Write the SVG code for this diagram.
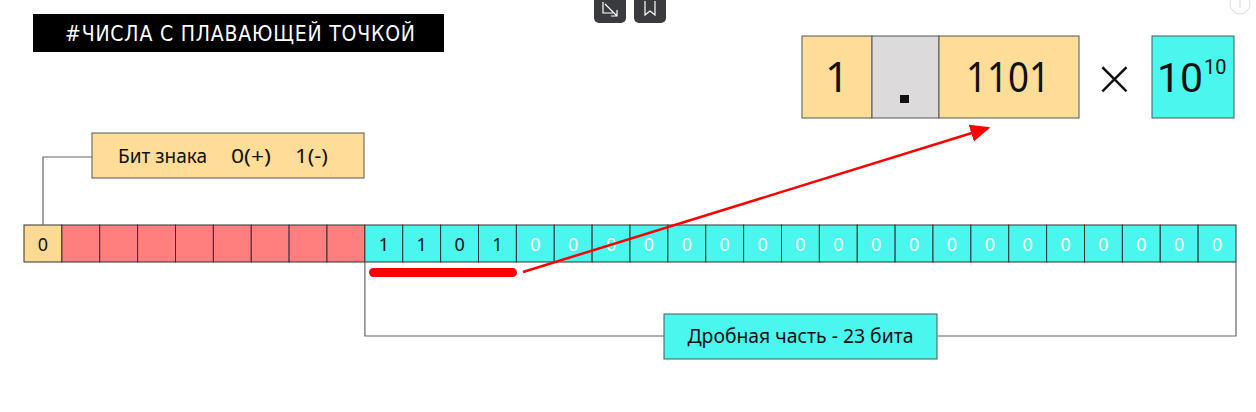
<svg xmlns="http://www.w3.org/2000/svg" width="1256" height="412" viewBox="0 0 1256 412">
<style>
  .cell { stroke: #333; stroke-width: 1; }
  .sign { fill: #fdda94; }
  .exp { fill: #ff7f7f; }
  .frac { fill: #4af7ee; }
  .bit { font-family: "Noto Sans", "DejaVu Sans", sans-serif; font-size: 18px; text-anchor: middle; }
  .dk { fill: #111; }
  .wh { fill: #ffffff; }
  .lbl { font-family: "Noto Sans", "DejaVu Sans", sans-serif; font-size: 19px; fill: #111; }
  .big { font-family: "Noto Sans", "DejaVu Sans", sans-serif; font-size: 42px; fill: #111; }
  .conn { fill: none; stroke: #666; stroke-width: 1.2; }
</style>
<defs>
  <marker id="arr" markerWidth="8" markerHeight="8" refX="7" refY="4" orient="auto" markerUnits="strokeWidth">
    <path d="M0,0.5 L8,4 L0,7.5 Z" fill="#ff0000"/>
  </marker>
</defs>
<rect width="1256" height="412" fill="#ffffff"/>

<g id="toolbar">
  <rect x="594" y="-6" width="32" height="29" rx="5" fill="#3a3b3f"/>
  <path d="M603,2 L603,13 L613,13 M605,4 L617,16 M617,10 L617,16 L611,16" fill="none" stroke="#ffffff" stroke-width="1.2"/>
  <rect x="634" y="-6" width="32" height="29" rx="5" fill="#3a3b3f"/>
  <path d="M645,1 L645,15 L650,11 L655,15 L655,1" fill="none" stroke="#ffffff" stroke-width="1.2"/>
  <circle cx="1240" cy="4" r="10" fill="none" stroke="#dddddd" stroke-width="1"/>
  <line x1="1240" y1="0" x2="1240" y2="8" stroke="#dddddd" stroke-width="1.2"/>
</g>

<g id="title">
  <rect x="33" y="14" width="411" height="38" fill="#000000"/>
  <text x="65" y="41" textLength="350" lengthAdjust="spacing" font-family="DejaVu Sans Condensed, Liberation Sans, sans-serif" font-size="21" fill="#ffffff">#ЧИСЛА С ПЛАВАЮЩЕЙ ТОЧКОЙ</text>
</g>

<g id="formula">
  <g id="f-one">
    <rect x="802" y="36" width="70" height="82" fill="#fedd96" stroke="#555" stroke-width="1"/>
    <text x="837" y="92" class="big" text-anchor="middle">1</text>
  </g>
  <g id="f-dot">
    <rect x="872" y="36" width="67" height="82" fill="#dcdadb" stroke="#555" stroke-width="1"/>
    <rect x="900" y="95" width="9" height="8" fill="#111"/>
  </g>
  <g id="f-mant">
    <rect x="939" y="36" width="140" height="82" fill="#fedd96" stroke="#555" stroke-width="1"/>
    <text x="1008" y="92" class="big" text-anchor="middle" textLength="84" lengthAdjust="spacingAndGlyphs">1101</text>
  </g>
  <g id="f-times">
    <text x="1114.5" y="95" font-family="DejaVu Sans, sans-serif" font-size="50" font-weight="200" fill="#111" text-anchor="middle">×</text>
  </g>
  <g id="f-pow">
    <rect x="1152" y="36" width="82" height="82" fill="#4af7ee" stroke="#555" stroke-width="1"/>
    <text x="1157" y="92" font-family="Roboto, Noto Sans, sans-serif" font-size="41" fill="#111">10</text>
    <text x="1204" y="74" font-family="Roboto, Noto Sans, sans-serif" font-size="20" fill="#111">10</text>
  </g>
</g>

<g id="sign-label">
  <rect x="92" y="133" width="272" height="45" fill="#fedd96" stroke="#555" stroke-width="1"/>
  <text x="118" y="163" class="lbl" textLength="89" lengthAdjust="spacingAndGlyphs">Бит знака</text>
  <text x="231" y="163" class="lbl" textLength="40" lengthAdjust="spacingAndGlyphs">0(+)</text>
  <text x="295" y="163" class="lbl" textLength="33" lengthAdjust="spacingAndGlyphs">1(-)</text>
</g>

<g id="frac-label">
  <rect x="664" y="314" width="273" height="45" fill="#4af7ee" stroke="#555" stroke-width="1"/>
  <text x="800.5" y="343" class="lbl" text-anchor="middle" textLength="226" lengthAdjust="spacingAndGlyphs">Дробная часть - 23 бита</text>
</g>

<g id="bits">
  <rect class="cell sign" x="24" y="225" width="37.875" height="37"/>
  <text class="bit dk" x="42.9" y="251">0</text>
  <rect class="cell exp" x="61.875" y="225" width="37.875" height="37"/>
  <rect class="cell exp" x="99.75" y="225" width="37.875" height="37"/>
  <rect class="cell exp" x="137.625" y="225" width="37.875" height="37"/>
  <rect class="cell exp" x="175.5" y="225" width="37.875" height="37"/>
  <rect class="cell exp" x="213.375" y="225" width="37.875" height="37"/>
  <rect class="cell exp" x="251.25" y="225" width="37.875" height="37"/>
  <rect class="cell exp" x="289.125" y="225" width="37.875" height="37"/>
  <rect class="cell exp" x="327" y="225" width="37.875" height="37"/>
  <rect class="cell frac" x="364.875" y="225" width="37.875" height="37"/>
  <text class="bit dk" x="383.8" y="251">1</text>
  <rect class="cell frac" x="402.75" y="225" width="37.875" height="37"/>
  <text class="bit dk" x="421.7" y="251">1</text>
  <rect class="cell frac" x="440.625" y="225" width="37.875" height="37"/>
  <text class="bit dk" x="459.6" y="251">0</text>
  <rect class="cell frac" x="478.5" y="225" width="37.875" height="37"/>
  <text class="bit dk" x="497.4" y="251">1</text>
  <rect class="cell frac" x="516.375" y="225" width="37.875" height="37"/>
  <text class="bit wh" x="535.3" y="251">0</text>
  <rect class="cell frac" x="554.25" y="225" width="37.875" height="37"/>
  <text class="bit wh" x="573.2" y="251">0</text>
  <rect class="cell frac" x="592.125" y="225" width="37.875" height="37"/>
  <text class="bit wh" x="611.1" y="251">0</text>
  <rect class="cell frac" x="630" y="225" width="37.875" height="37"/>
  <text class="bit wh" x="648.9" y="251">0</text>
  <rect class="cell frac" x="667.875" y="225" width="37.875" height="37"/>
  <text class="bit wh" x="686.8" y="251">0</text>
  <rect class="cell frac" x="705.75" y="225" width="37.875" height="37"/>
  <text class="bit wh" x="724.7" y="251">0</text>
  <rect class="cell frac" x="743.625" y="225" width="37.875" height="37"/>
  <text class="bit wh" x="762.6" y="251">0</text>
  <rect class="cell frac" x="781.5" y="225" width="37.875" height="37"/>
  <text class="bit wh" x="800.4" y="251">0</text>
  <rect class="cell frac" x="819.375" y="225" width="37.875" height="37"/>
  <text class="bit wh" x="838.3" y="251">0</text>
  <rect class="cell frac" x="857.25" y="225" width="37.875" height="37"/>
  <text class="bit wh" x="876.2" y="251">0</text>
  <rect class="cell frac" x="895.125" y="225" width="37.875" height="37"/>
  <text class="bit wh" x="914.1" y="251">0</text>
  <rect class="cell frac" x="933" y="225" width="37.875" height="37"/>
  <text class="bit wh" x="951.9" y="251">0</text>
  <rect class="cell frac" x="970.875" y="225" width="37.875" height="37"/>
  <text class="bit wh" x="989.8" y="251">0</text>
  <rect class="cell frac" x="1008.75" y="225" width="37.875" height="37"/>
  <text class="bit wh" x="1027.7" y="251">0</text>
  <rect class="cell frac" x="1046.625" y="225" width="37.875" height="37"/>
  <text class="bit wh" x="1065.6" y="251">0</text>
  <rect class="cell frac" x="1084.5" y="225" width="37.875" height="37"/>
  <text class="bit wh" x="1103.4" y="251">0</text>
  <rect class="cell frac" x="1122.375" y="225" width="37.875" height="37"/>
  <text class="bit wh" x="1141.3" y="251">0</text>
  <rect class="cell frac" x="1160.25" y="225" width="37.875" height="37"/>
  <text class="bit wh" x="1179.2" y="251">0</text>
  <rect class="cell frac" x="1198.125" y="225" width="37.875" height="37"/>
  <text class="bit wh" x="1217.1" y="251">0</text>
</g>

<g id="connectors">
  <polyline class="conn" points="92,157 43,157 43,225"/>
  <polyline class="conn" points="364.9,262 364.9,336 664,336"/>
  <polyline class="conn" points="937,336 1236,336 1236,262"/>
  <line x1="373.5" y1="272.5" x2="512.5" y2="272.5" stroke="#ff0000" stroke-width="9" stroke-linecap="round"/>
  <line x1="523" y1="272" x2="988" y2="128" stroke="#ff0000" stroke-width="2.5" marker-end="url(#arr)"/>
</g>
</svg>
